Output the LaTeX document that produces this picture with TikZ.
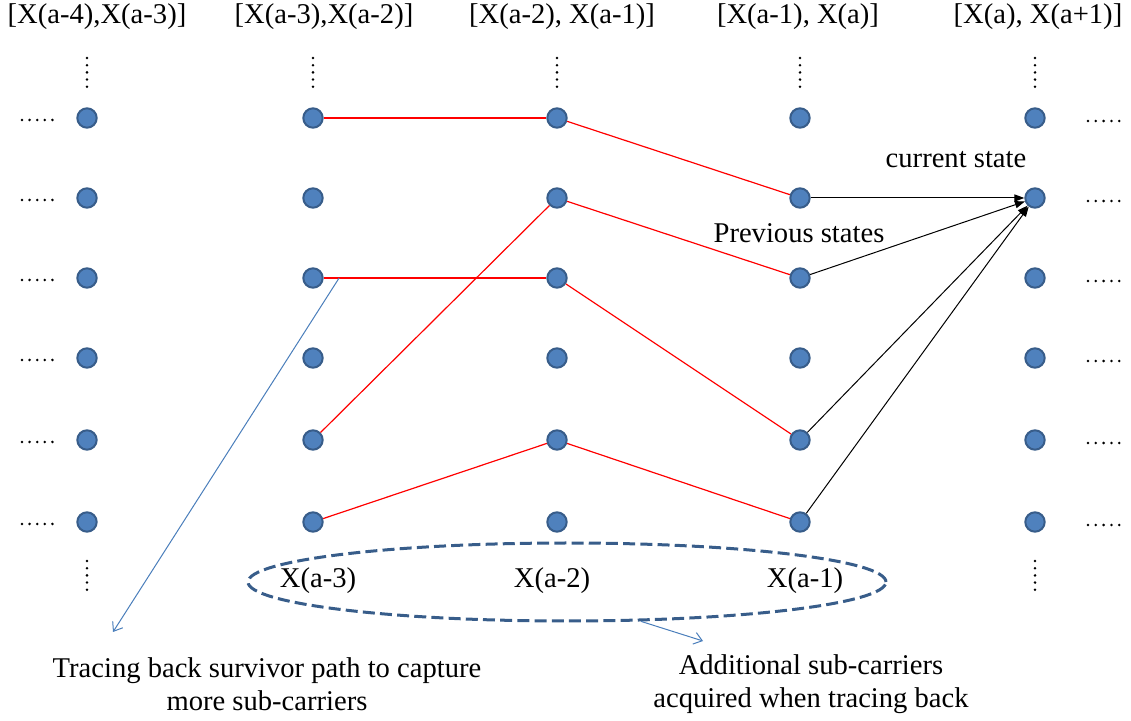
\documentclass[tikz,border=0pt]{standalone}
\usepackage{fontspec}
\setmainfont{Liberation Serif}
\usetikzlibrary{arrows.meta,shapes.geometric,calc}

\definecolor{nodefill}{HTML}{4F81BD}
\definecolor{nodeedge}{HTML}{385D8A}
\definecolor{groupedge}{HTML}{385D8A}
\definecolor{noteblue}{HTML}{4A7EBB}
\definecolor{pathred}{HTML}{FF0000}

\begin{document}
\begin{tikzpicture}[x=0.5pt,y=-0.5pt,
  state/.style={circle,fill=nodefill,draw=nodeedge,line width=1pt,minimum size=9.7pt,inner sep=0pt},
  lbl/.style={inner sep=0pt,font=\fontsize{14.3}{16.7}\selectfont},
  survivor/.style={draw=pathred,line width=0.6pt},
  transition/.style={draw=black,line width=0.5pt,-{Triangle[length=5pt,width=3.6pt]}},
  note/.style={draw=noteblue,line width=0.5pt,-{Straight Barb[length=4pt,width=6pt]}},
  dotmark/.style={fill=black},
]
\useasboundingbox (0,0) rectangle (1131,721);

% column headers
\node[lbl] (h1) at (97,17)   {[X(a-4),X(a-3)]};
\node[lbl] (h2) at (324,17)  {[X(a-3),X(a-2)]};
\node[lbl] (h3) at (562,17)  {[X(a-2), X(a-1)]};
\node[lbl] (h4) at (798,17)  {[X(a-1), X(a)]};
\node[lbl] (h5) at (1038,17) {[X(a), X(a+1)]};

% trellis states
\foreach \c/\x in {1/87,2/313,3/557,4/800,5/1035}{
  \foreach \r/\y in {1/118,2/198,3/278,4/358,5/440,6/522}{
    \node[state] (n\c\r) at (\x,\y) {};
  }
  % vertical ellipsis above each column
  \foreach \k in {0,...,4}
    \fill[dotmark] (\x,58+7.2*\k) circle (0.7pt);
}

% vertical ellipsis below the outer columns
\foreach \x in {87,1035}
  \foreach \k in {0,...,4}
    \fill[dotmark] (\x,561+7.2*\k) circle (0.7pt);

% horizontal ellipses on the left and right
\foreach \y in {118,198,278,358,440,522}{
  \foreach \k in {0,...,4}{
    \fill[dotmark] (22+7.6*\k,\y+2) circle (0.7pt);
    \fill[dotmark] (1088+7.8*\k,\y+3) circle (0.7pt);
  }
}

% survivor paths
\draw[survivor] (n21) -- (n31);
\draw[survivor] (n31) -- (n42);
\draw[survivor] (n23) -- (n33);
\draw[survivor] (n32) -- (n43);
\draw[survivor] (n25) -- (n32);
\draw[survivor] (n33) -- (n45);
\draw[survivor] (n26) -- (n35);
\draw[survivor] (n35) -- (n46);

% transitions into the current state
\draw[transition] (n42) -- (n52);
\draw[transition] (n43) -- (n52);
\draw[transition] (n45) -- (n52);
\draw[transition] (n46) -- (n52);

\node[lbl] (cur)  at (956,160) {current state};
\node[lbl] (prev) at (799,233) {Previous states};

% group of additional sub-carriers
\node[ellipse,draw=groupedge,line width=1.5pt,dash pattern=on 6pt off 2.6pt,
      minimum width=319pt,minimum height=39pt,inner sep=0pt] (grp) at (567,582) {};
\node[lbl] (xa3) at (318,581) {X(a-3)};
\node[lbl] (xa2) at (552,581) {X(a-2)};
\node[lbl] (xa1) at (805,581) {X(a-1)};

% explanatory notes
\coordinate (tb) at ($(n23)!0.107!(n33)$);
\coordinate (tbend) at (113,632);
\coordinate (adend) at (703,641);
\draw[note] (tb) -- (tbend);
\draw[note] (grp.-28) -- (adend);

\node[lbl,align=center] (tracenote) at (267,684)
  {Tracing back survivor path to capture\\more sub-carriers};
\node[lbl,align=center] (addnote) at (811,684)
  {Additional sub-carriers\\acquired when tracing back};
\end{tikzpicture}
\end{document}
